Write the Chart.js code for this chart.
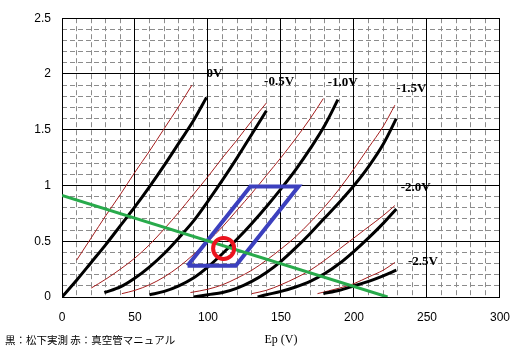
<!DOCTYPE html>
<html><head><meta charset="utf-8">
<script src="https://cdn.jsdelivr.net/npm/chart.js@4/dist/chart.umd.min.js"></script>
<style>html,body{margin:0;padding:0;background:#fff}#wrap{width:523px;height:357px;position:relative}</style>
</head><body><div id="wrap"><canvas id="c" width="523" height="357"></canvas></div>
<script>
// ---- data ----
const gridBiases = ['0V','-0.5V','-1.0V','-1.5V','-2.0V','-2.5V'];
const xTickValues = [0,50,100,150,200,250,300];
const xTickLabels = ['0','50','100','150','200','250','300'];
const yTickValues = [0,0.5,1,1.5,2,2.5];
const yTickLabels = ['0','0.5','1','1.5','2','2.5'];
const xMinorValues = [0,10,20,30,40,50,60,70,80,90,100,110,120,130,140,150,160,170,180,190,200,210,220,230,240,250,260,270,280,290,300];
const yMinorValues = [0,0.1,0.2,0.3,0.4,0.5,0.6,0.7,0.8,0.9,1,1.1,1.2,1.3,1.4,1.5,1.6,1.7,1.8,1.9,2,2.1,2.2,2.3,2.4,2.5];

// black: measured (Matsushita)
const meas0V   = [[0,0],[10,0.15],[20,0.31],[30,0.47],[40,0.64],[50,0.81],[60,0.99],[70,1.18],[80,1.38],[90,1.58],[99,1.79]];
const meas05V  = [[29,0.04],[40,0.09],[50,0.17],[60,0.27],[70,0.39],[80,0.53],[90,0.68],[100,0.86],[110,1.05],[120,1.25],[130,1.46],[140,1.67]];
const meas10V  = [[60,0.02],[70,0.05],[80,0.10],[90,0.17],[100,0.27],[110,0.39],[120,0.52],[130,0.66],[140,0.81],[150,0.97],[160,1.14],[170,1.33],[180,1.54],[189,1.77]];
const meas15V  = [[90,0.0],[100,0.02],[110,0.04],[120,0.08],[130,0.14],[140,0.22],[150,0.32],[160,0.44],[170,0.57],[180,0.71],[190,0.85],[200,1.0],[210,1.17],[220,1.37],[229,1.60]];
const meas20V  = [[134,0.0],[140,0.02],[150,0.05],[160,0.09],[170,0.14],[180,0.21],[190,0.30],[200,0.41],[210,0.53],[220,0.66],[229,0.79]];
const meas25V  = [[179,0.03],[190,0.06],[200,0.10],[210,0.14],[220,0.19],[229,0.24]];

// red: tube manual
const man0V   = [[10,0.33],[20,0.53],[30,0.73],[40,0.92],[50,1.12],[60,1.31],[70,1.51],[80,1.71],[89,1.90]];
const man05V  = [[20,0.08],[30,0.16],[40,0.25],[50,0.35],[60,0.47],[70,0.61],[80,0.76],[90,0.92],[100,1.08],[110,1.25],[120,1.41],[130,1.58],[140,1.74]];
const man10V  = [[41,0.03],[50,0.06],[60,0.11],[70,0.18],[80,0.27],[90,0.38],[100,0.50],[110,0.63],[120,0.78],[130,0.93],[140,1.09],[150,1.25],[160,1.42],[170,1.60],[179,1.78]];
const man15V  = [[88,0.04],[100,0.07],[110,0.11],[120,0.17],[130,0.24],[140,0.33],[150,0.43],[160,0.54],[170,0.67],[180,0.81],[190,0.97],[200,1.15],[210,1.34],[220,1.53],[228,1.72]];
const man20V  = [[130,0.03],[140,0.06],[150,0.11],[160,0.17],[170,0.24],[180,0.33],[190,0.43],[200,0.53],[210,0.63],[220,0.73],[228,0.82]];
const man25V  = [[175,0.03],[190,0.08],[200,0.12],[210,0.18],[220,0.24],[228,0.31]];

const loadLine   = [[0,0.91],[223,0]];
const swingArea  = [[86,0.28],[119,0.28],[162,0.99],[129,0.99],[86,0.28]];
const opPoint    = [[110.7,0.436]];
const labelAnchors = [[99,2.0],[138.4,1.93],[182,1.92],[229,1.87],[232,0.98],[237,0.32]];
const noteText = '黒：松下実測 赤：真空管マニュアル';
const xTitle = 'Ep (V)';

// ---- chart ----
const pts = a => a.map(p => ({x:p[0], y:p[1]}));
const measured = [meas0V,meas05V,meas10V,meas15V,meas20V,meas25V];
const manual = [man0V,man05V,man10V,man15V,man20V,man25V];
const datasets = [];
manual.forEach((d,i)=>datasets.push({label:'man'+gridBiases[i],data:pts(d),showLine:true,pointRadius:0,borderColor:'rgb(165,30,30)',borderWidth:1,cubicInterpolationMode:'monotone',order:50}));
measured.forEach((d,i)=>datasets.push({label:'meas'+gridBiases[i],data:pts(d),showLine:true,pointRadius:0,borderColor:'#000',borderWidth:3,cubicInterpolationMode:'monotone',order:40}));
datasets.push({label:'swing',data:pts(swingArea),showLine:true,pointRadius:0,borderColor:'rgb(60,64,190)',borderWidth:4,tension:0,borderJoinStyle:'miter',order:30});
datasets.push({label:'load',data:pts(loadLine),showLine:true,pointRadius:0,borderColor:'rgb(40,170,75)',borderWidth:3,tension:0,order:20});
datasets.push({label:'op',data:pts(opPoint),showLine:false,pointRadius:10.5,pointBorderWidth:4,pointBorderColor:'rgb(235,20,30)',pointBackgroundColor:'rgba(0,0,0,0)',order:10});

const textPlugin = {
  id:'txt',
  beforeDraw(chart){const c=chart.ctx;c.save();c.fillStyle='#fff';c.fillRect(0,0,chart.width,chart.height);c.restore();},
  afterDatasetsDraw(chart){
    const ctx = chart.ctx, x = chart.scales.x, y = chart.scales.y;
    ctx.save();
    ctx.fillStyle = '#000';
    ctx.textBaseline = 'middle'; ctx.textAlign = 'left';
    ctx.font = 'bold 13px "Liberation Serif"';
    gridBiases.forEach((t,i)=>ctx.fillText(t, x.getPixelForValue(labelAnchors[i][0]), y.getPixelForValue(labelAnchors[i][1])));
    ctx.font = '10.5px "Noto Sans CJK JP"';
    ctx.fillText(noteText, 5, 340);
    ctx.restore();
  }
};

Chart.defaults.color = '#000';
new Chart(document.getElementById('c'), {
  type:'scatter',
  data:{datasets},
  plugins:[textPlugin],
  options:{
    responsive:false, animation:false, devicePixelRatio:1,
    layout:{padding:{left:0,right:21,top:18,bottom:0}},
    plugins:{legend:{display:false},tooltip:{enabled:false}},
    scales:{
      xm:{type:'linear',position:'bottom',min:0,max:300,
        afterBuildTicks:s=>{s.ticks=xMinorValues.map(v=>({value:v}));},
        ticks:{display:false},
        grid:{drawTicks:false,color:c=>(c.tick && xTickValues.includes(c.tick.value))?'rgba(0,0,0,0)':'#8c8c8c',lineWidth:1},
        border:{display:false,dash:[5,3]},
        afterFit:s=>{s.height=0;}},
      ym:{type:'linear',position:'left',min:0,max:2.5,
        afterBuildTicks:s=>{s.ticks=yMinorValues.map(v=>({value:v}));},
        ticks:{display:false},
        grid:{drawTicks:false,color:c=>(c.tick && yTickValues.some(v=>Math.abs(v-c.tick.value)<1e-6))?'rgba(0,0,0,0)':'#8c8c8c',lineWidth:1},
        border:{display:false,dash:[5,3]},
        afterFit:s=>{s.width=0;}},
      x:{type:'linear',position:'bottom',min:0,max:300,
        afterBuildTicks:s=>{s.ticks=xTickValues.map(v=>({value:v}));},
        ticks:{autoSkip:false,maxRotation:0,padding:13,font:{family:'"Liberation Sans"',size:12},
          callback:(v)=>xTickLabels[xTickValues.indexOf(v)]},
        grid:{drawTicks:false,color:'#000',lineWidth:1},
        border:{display:true,color:'#000'},
        title:{display:true,text:xTitle,font:{family:'"Liberation Serif"',size:12},padding:{top:4,bottom:10}},
        afterFit:s=>{s.height=60;}},
      y:{type:'linear',position:'left',min:0,max:2.5,
        afterBuildTicks:s=>{s.ticks=yTickValues.map(v=>({value:v}));},
        ticks:{autoSkip:false,padding:11,font:{family:'"Liberation Sans"',size:12},
          callback:(v)=>yTickLabels[yTickValues.findIndex(t=>Math.abs(t-v)<1e-6)]},
        grid:{drawTicks:false,color:'#000',lineWidth:1},
        border:{display:true,color:'#000'},
        afterFit:s=>{s.width=62;}}
    }
  }
});
</script></body></html>
